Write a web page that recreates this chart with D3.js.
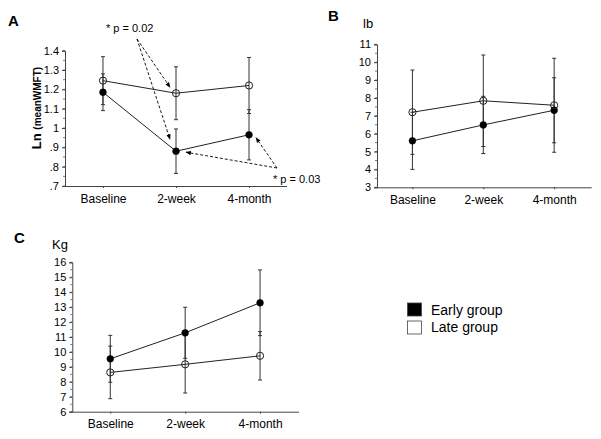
<!DOCTYPE html>
<html><head><meta charset="utf-8">
<script src="https://cdn.jsdelivr.net/npm/d3@7/dist/d3.min.js"></script>
<style>
body{margin:0;background:#fff;}
text{font-family:"Liberation Sans",Arial,sans-serif;fill:#000;}
</style></head>
<body><svg id="c" width="601" height="439"></svg>
<script>
const categories = ["Baseline","2-week","4-month"];
// Panel A: Ln(meanWMFT)
const aEarly = [1.185, 0.88, 0.965];
const aEarlyErr = [0.095, 0.115, 0.13];
const aLate = [1.245, 1.18, 1.22];
const aLateErr = [0.124, 0.137, 0.145];
const aTicks = [0.7,0.8,0.9,1.0,1.1,1.2,1.3,1.4];
const aTickLabels = [".7",".8",".9","1","1.1","1.2","1.3","1.4"];
// Panel B: lb
const bEarly = [5.6, 6.49, 7.31];
const bEarlyErr = [1.6, 1.6, 1.82];
const bLate = [7.2, 7.84, 7.59];
const bLateErr = [2.36, 2.56, 2.63];
const bTicks = [3,4,5,6,7,8,9,10,11];
// Panel C: Kg
const cEarly = [9.54, 11.28, 13.29];
const cEarlyErr = [1.57, 1.71, 2.2];
const cLate = [8.63, 9.17, 9.74];
const cLateErr = [1.76, 1.92, 1.62];
const cTicks = [6,7,8,9,10,11,12,13,14,15,16];
const legendLabels = ["Early group","Late group"];

const svg = d3.select("#c");

function panel(cfg){
  const g = svg.append("g");
  const x = d3.scaleLinear().domain(cfg.xd).range(cfg.xr);
  const y = d3.scaleLinear().domain(cfg.yd).range(cfg.yr);
  const x0 = cfg.xr[0], y0 = cfg.yr[0];
  const step = cfg.ticks[1]-cfg.ticks[0];
  const minor = d3.range(cfg.yd[0], cfg.yd[1]+1e-9, step/cfg.minorN);
  g.selectAll(".mn").data(minor).join("line")
    .attr("x1",x0).attr("x2",x0-2).attr("y1",d=>y(d)).attr("y2",d=>y(d))
    .attr("stroke","#555").attr("stroke-width",0.8);
  const ya = d3.axisLeft(y).tickValues(cfg.ticks).tickSize(3).tickPadding(3)
    .tickFormat((d,i)=>cfg.tickLabels? cfg.tickLabels[i] : d);
  const yg = g.append("g").attr("transform",`translate(${x0},0)`).call(ya);
  yg.select(".domain").attr("stroke","#444");
  yg.selectAll(".tick line").attr("stroke","#444");
  yg.selectAll("text").style("font-size","11px").attr("fill","#000");
  const xa = d3.axisBottom(x).tickValues([0,1,2]).tickSize(2).tickPadding(6)
    .tickFormat(i=>categories[i]);
  const xg = g.append("g").attr("transform",`translate(0,${y0})`).call(xa);
  xg.select(".domain").attr("stroke","#444").attr("d",`M${x0},0.5H${cfg.xr[1]}`);
  xg.selectAll(".tick line").attr("stroke","#444");
  xg.selectAll("text").style("font-size","12px").attr("fill","#000");
  const series = [
    {v:cfg.early, e:cfg.earlyErr, filled:true},
    {v:cfg.late, e:cfg.lateErr, filled:false}
  ];
  series.forEach(s=>{
    s.v.forEach((v,i)=>{
      g.append("line").attr("x1",x(i)).attr("x2",x(i))
        .attr("y1",y(v+s.e[i])).attr("y2",y(v-s.e[i]))
        .attr("stroke","#333").attr("stroke-width",1);
      [v+s.e[i], v-s.e[i]].forEach(c=>{
        g.append("line").attr("x1",x(i)-2).attr("x2",x(i)+2)
          .attr("y1",y(c)).attr("y2",y(c)).attr("stroke","#333").attr("stroke-width",1);
      });
    });
  });
  const line = d3.line().x((d,i)=>x(i)).y(d=>y(d));
  series.forEach(s=>{
    g.append("path").datum(s.v).attr("d",line).attr("fill","none")
      .attr("stroke","#222").attr("stroke-width",1);
  });
  series.forEach(s=>{
    g.selectAll(null).data(s.v).join("circle")
      .attr("cx",(d,i)=>x(i)).attr("cy",d=>y(d))
      .attr("r", s.filled?3.4:3.6)
      .attr("fill", s.filled?"#000":"none")
      .attr("stroke", s.filled?"#000":"#222").attr("stroke-width", s.filled?0.5:1);
  });
  return {g,x,y};
}

const A = panel({xd:[-0.52,2.52], xr:[65,287], yd:[0.7,1.4], yr:[186,50.7],
  ticks:aTicks, tickLabels:aTickLabels, minorN:2,
  early:aEarly, earlyErr:aEarlyErr, late:aLate, lateErr:aLateErr});
const B = panel({xd:[-0.5,2.53], xr:[377,591.7], yd:[3,11], yr:[187.3,44.3],
  ticks:bTicks, minorN:2,
  early:bEarly, earlyErr:bEarlyErr, late:bLate, lateErr:bLateErr});
const C = panel({xd:[-0.507,2.52], xr:[72.3,299], yd:[6,16], yr:[411.7,262.3],
  ticks:cTicks, minorN:2,
  early:cEarly, earlyErr:cEarlyErr, late:cLate, lateErr:cLateErr});

[["A",8,26],["B",328,21],["C",14,243]].forEach(([t,px,py])=>{
  svg.append("text").attr("x",px).attr("y",py).text(t)
    .style("font-size","15px").style("font-weight","bold");
});
svg.append("text").attr("x",363).attr("y",28).text("lb").style("font-size","13px");
svg.append("text").attr("x",52).attr("y",249).text("Kg").style("font-size","13px");

const yl = svg.append("text").attr("transform","translate(41,108) rotate(-90)")
  .attr("text-anchor","middle").style("font-weight","bold");
yl.append("tspan").text("Ln ").style("font-size","13px");
yl.append("tspan").text("(meanWMFT)").style("font-size","10px");

const defs = svg.append("defs");
defs.append("marker").attr("id","ah").attr("viewBox","0 0 10 10").attr("refX",9).attr("refY",5)
  .attr("markerWidth",6).attr("markerHeight",6).attr("orient","auto")
  .append("path").attr("d","M0,1L10,5L0,9z").attr("fill","#000");
function arrow(x1,y1,x2,y2){
  svg.append("line").attr("x1",x1).attr("y1",y1).attr("x2",x2).attr("y2",y2)
    .attr("stroke","#000").attr("stroke-width",0.9).attr("stroke-dasharray","3,2")
    .attr("marker-end","url(#ah)");
}
svg.append("text").attr("x",106).attr("y",32).text("* p = 0.02").style("font-size","11px");
const sx = 137, sy = 39;
arrow(sx,sy, A.x(1)-6, A.y(aLate[1])-6);
arrow(sx,sy, A.x(1)-6, A.y(aEarly[1])-12);
svg.append("text").attr("x",273).attr("y",183).text("* p = 0.03").style("font-size","11px");
const tx = 277, ty = 168;
arrow(tx,ty, A.x(1)+10, A.y(aEarly[1])+1);
arrow(tx,ty, A.x(2)+7, A.y(aEarly[2])+3);

const lg = svg.append("g");
legendLabels.forEach((t,i)=>{
  lg.append("rect").attr("x",407.5).attr("y",303+i*18).attr("width",14).attr("height",13)
    .attr("fill", i===0?"#000":"#fff").attr("stroke","#444").attr("stroke-width",0.8);
  lg.append("text").attr("x",431).attr("y",315+i*17).text(t).style("font-size","14px");
});
</script></body></html>
